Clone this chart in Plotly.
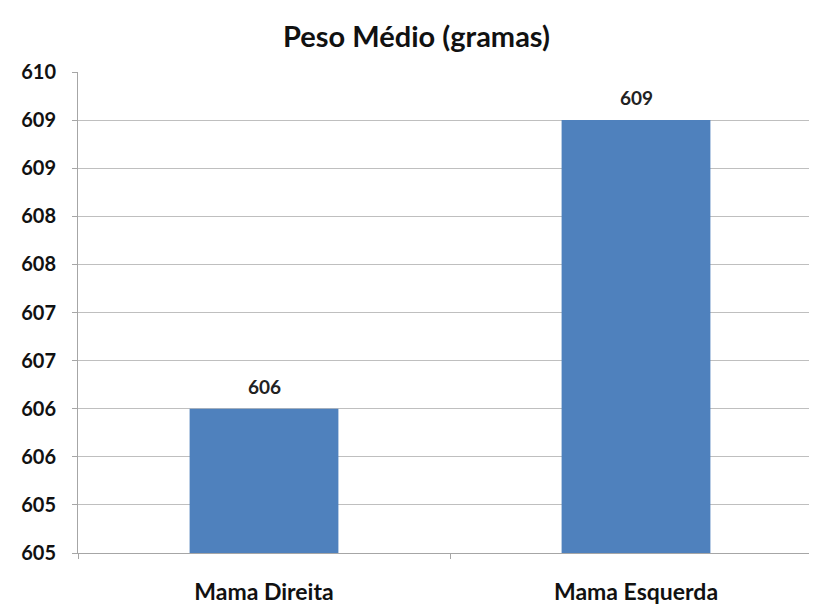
import plotly.graph_objects as go

categories = ["Mama Direita", "Mama Esquerda"]
values = [606, 609]
bar_labels = ["606", "609"]
y_tick_values = [604.5, 605.0, 605.5, 606.0, 606.5, 607.0, 607.5, 608.0, 608.5, 609.0, 609.5]
y_tick_labels = ["605", "605", "606", "606", "607", "607", "608", "608", "609", "609", "610"]

BASE = 604.5
FONT = "Lato, 'Open Sans', Arial, sans-serif"

fig = go.Figure(go.Bar(
    x=categories,
    y=[v - BASE for v in values],
    base=BASE,
    width=0.4,
    marker=dict(color="#4F81BD", line=dict(width=0)),
    hoverinfo="skip",
))

for cat, val, lab in zip(categories, values, bar_labels):
    fig.add_annotation(
        x=cat, y=val, text=lab, showarrow=False,
        xanchor="center", yanchor="bottom", yshift=9,
        font=dict(family=FONT, size=19, color="#222222", weight="bold"),
    )

fig.update_layout(
    width=817, height=606,
    margin=dict(l=70, r=3, t=64, b=61, autoexpand=False),
    paper_bgcolor="white",
    plot_bgcolor="white",
    showlegend=False,
    title=dict(text="<b>Peso Médio (gramas)</b>", x=0.5, xanchor="center", y=0.952, yanchor="middle",
               font=dict(family=FONT, size=29, color="#111111")),
    xaxis=dict(
        type="category",
        range=[-0.5, 1.5],
        automargin=False,
        showgrid=False,
        showline=True, linecolor="#A6A6A6", linewidth=1,
        ticks="outside", tickson="boundaries", ticklen=5, tickcolor="#A6A6A6",
        tickfont=dict(family=FONT, size=23, color="#111111", weight="bold"),
        ticklabelstandoff=18,
    ),
    yaxis=dict(
        range=[604.5, 609.5],
        automargin=False,
        tickmode="array",
        tickvals=y_tick_values,
        ticktext=y_tick_labels,
        showgrid=True, gridcolor="#BFBFBF", gridwidth=1,
        showline=True, linecolor="#A6A6A6", linewidth=1,
        ticks="outside", ticklen=5, tickcolor="#A6A6A6",
        tickfont=dict(family=FONT, size=20, color="#111111", weight="bold"),
        ticklabelstandoff=12,
        zeroline=False,
    ),
)

fig.write_html("out.html")
